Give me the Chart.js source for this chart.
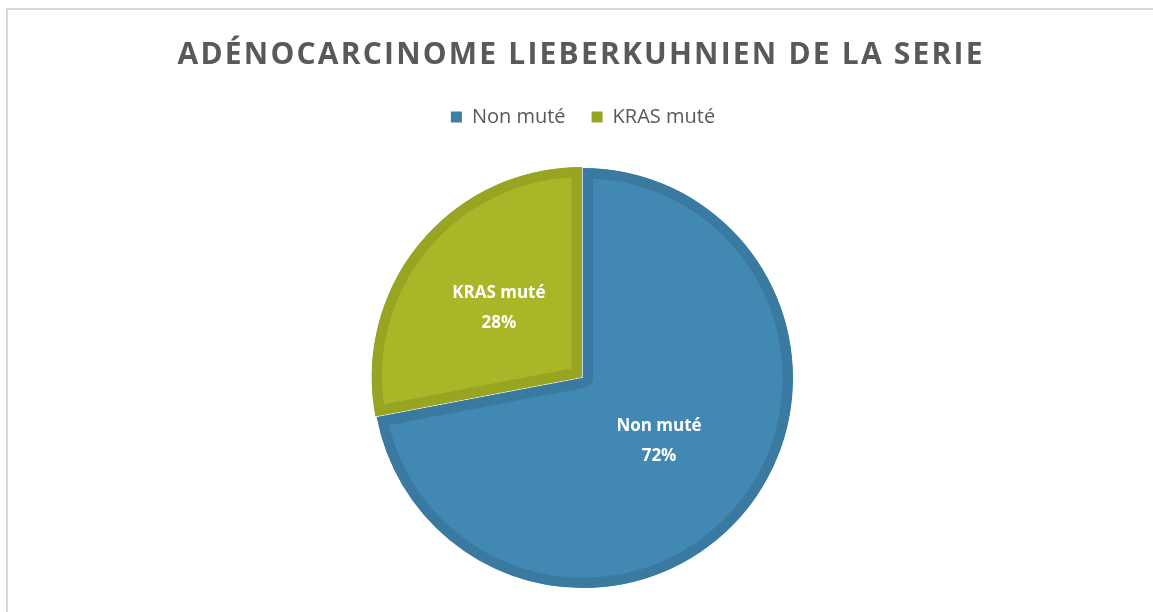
<!DOCTYPE html>
<html>
<head>
<meta charset="utf-8">
<script src="https://cdn.jsdelivr.net/npm/chart.js@4/dist/chart.umd.min.js"></script>
<style>
  html, body { margin: 0; padding: 0; background: #ffffff; }
  body { width: 1153px; height: 612px; overflow: hidden; position: relative; }
  #frame { position: absolute; left: 6px; top: 8px; width: 1200px; height: 700px;
           border-left: 2px solid #d9d9d9; border-top: 2px solid #d9d9d9; box-sizing: border-box; }
  #chart { position: absolute; left: 0; top: 0; }
</style>
</head>
<body>
<div id="frame"></div>
<canvas id="chart" width="1153" height="640"></canvas>
<script>
const titleText = 'ADÉNOCARCINOME LIEBERKUHNIEN DE LA SERIE';
const categories = ['Non muté', 'KRAS muté'];
const percentages = [72, 28];
const sliceOffsets = [0, 7];

const fillColors = ['#4189b3', '#a8b628'];
const borderColors = ['#3a7aa1', '#97a522'];
const legendColors = ['#3d7fa7', '#98a524'];
const labelRadiusFactors = [0.47, 0.52];

// Title drawn with letter spacing (canvas text)
const spacedTitle = {
  id: 'spacedTitle',
  afterDraw(chart) {
    const ctx = chart.ctx;
    ctx.save();
    ctx.font = 'bold 30px "Open Sans", sans-serif';
    ctx.fillStyle = '#595959';
    ctx.textAlign = 'center';
    ctx.textBaseline = 'alphabetic';
    if ('letterSpacing' in ctx) ctx.letterSpacing = '2.2px';
    ctx.fillText(titleText, 580 + 1.1, 64);
    ctx.restore();
  }
};

const sliceLabels = {
  id: 'sliceLabels',
  afterDatasetsDraw(chart) {
    const ctx = chart.ctx;
    const meta = chart.getDatasetMeta(0);
    ctx.save();
    ctx.fillStyle = '#ffffff';
    ctx.font = 'bold 17px "Open Sans", sans-serif';
    ctx.textAlign = 'center';
    ctx.textBaseline = 'middle';
    meta.data.forEach((arc, i) => {
      const p = arc.getProps(['x', 'y', 'startAngle', 'endAngle', 'outerRadius'], true);
      const mid = (p.startAngle + p.endAngle) / 2;
      const r = p.outerRadius * labelRadiusFactors[i];
      const x = p.x + Math.cos(mid) * r;
      const y = p.y + Math.sin(mid) * r;
      ctx.fillText(categories[i], x, y - 15);
      ctx.fillText(percentages[i] + '%', x, y + 15);
    });
    ctx.restore();
  }
};

new Chart(document.getElementById('chart'), {
  type: 'pie',
  data: {
    labels: categories,
    datasets: [{
      data: percentages,
      backgroundColor: fillColors,
      borderColor: borderColors,
      borderWidth: 10,
      borderAlign: 'inner',
      offset: sliceOffsets,
      radius: 210,
      clip: false
    }]
  },
  options: {
    responsive: false,
    animation: false,
    events: [],
    layout: { padding: { left: 13, right: 0, top: 81, bottom: 21 } },
    plugins: {
      title: { display: false },
      legend: {
        display: true,
        position: 'top',
        labels: {
          color: '#595959',
          font: { family: '"Open Sans", sans-serif', size: 20 },
          boxWidth: 11,
          boxHeight: 11,
          padding: 26,
          generateLabels(chart) {
            return categories.map((c, i) => ({
              text: c,
              fillStyle: legendColors[i],
              strokeStyle: legendColors[i],
              lineWidth: 0,
              fontColor: '#595959',
              index: i,
              hidden: false
            }));
          }
        }
      },
      tooltip: { enabled: false }
    }
  },
  plugins: [sliceLabels, spacedTitle]
});
</script>
</body>
</html>
